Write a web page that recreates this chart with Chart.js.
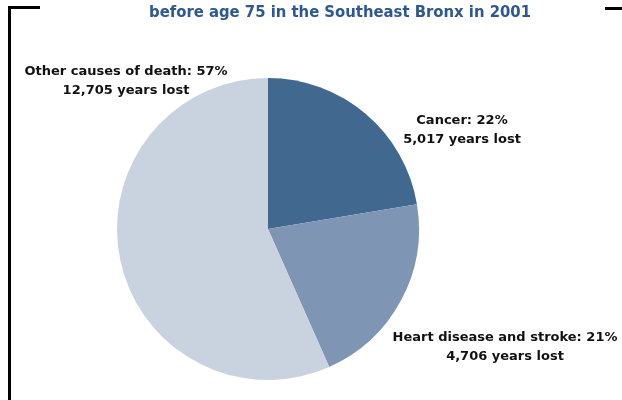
<!DOCTYPE html>
<html lang="en">
<head>
    <meta charset="UTF-8">
    <title>Years of life lost before age 75</title>
    <script src="https://cdn.jsdelivr.net/npm/chart.js"></script>
    <style>
        body { margin: 0; background: #fff; }
    </style>
</head>
<body>
    <canvas id="myChart" width="622" height="400"></canvas>

    <script>
        const categories = ["Cancer", "Heart disease and stroke", "Other causes of death"];
        const yearsLost = [5017, 4706, 12705];
        const percents = [22, 21, 57];
        const sliceColors = ["#41688F", "#7F95B4", "#C9D3E0"];

        // label anchors (centre of the text block) in canvas pixels
        const labelSpots = [[462, 130], [505, 347], [126, 81]];

        const decorations = {
            id: 'decorations',
            afterDraw(chart) {
                const ctx = chart.ctx;
                ctx.save();

                // frame pieces
                ctx.strokeStyle = '#000';
                ctx.lineWidth = 3;
                ctx.beginPath();
                ctx.moveTo(9.5, 400);
                ctx.lineTo(9.5, 7.5);
                ctx.lineTo(40, 7.5);
                ctx.moveTo(605, 8.5);
                ctx.lineTo(622, 8.5);
                ctx.stroke();

                // title
                ctx.fillStyle = '#2E5893';
                ctx.font = 'bold 16.5px "DejaVu Sans Condensed", "DejaVu Sans"';
                ctx.textAlign = 'center';
                ctx.textBaseline = 'middle';
                ctx.fillText('before age 75 in the Southeast Bronx in 2001', 340, 13);

                // slice labels
                ctx.fillStyle = '#111';
                ctx.font = 'bold 13px "DejaVu Sans"';
                categories.forEach((c, i) => {
                    const [x, y] = labelSpots[i];
                    ctx.fillText(c + ': ' + percents[i] + '%', x, y - 9);
                    ctx.fillText(yearsLost[i].toLocaleString('en-US') + ' years lost', x, y + 10);
                });
                ctx.restore();
            }
        };

        const ctx = document.getElementById('myChart').getContext('2d');
        new Chart(ctx, {
            type: 'pie',
            data: {
                labels: categories,
                datasets: [{
                    data: yearsLost,
                    backgroundColor: sliceColors,
                    borderWidth: 0
                }]
            },
            options: {
                responsive: false,
                animation: false,
                layout: {
                    padding: { top: 78, bottom: 20, left: 117, right: 203 }
                },
                plugins: {
                    legend: { display: false },
                    tooltip: { enabled: false }
                }
            },
            plugins: [decorations]
        });
    </script>
</body>
</html>
